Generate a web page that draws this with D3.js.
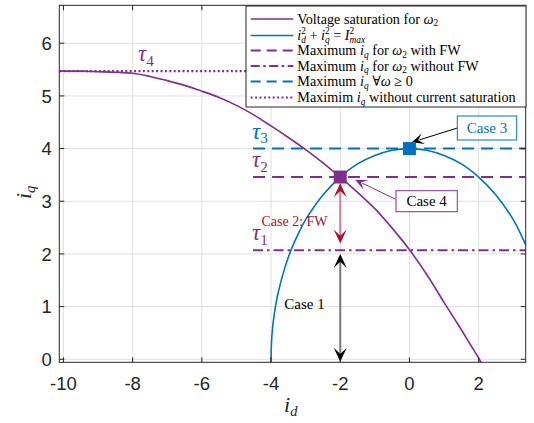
<!DOCTYPE html>
<html>
<head>
<meta charset="utf-8">
<script src="https://cdn.jsdelivr.net/npm/d3@7"></script>
<style>
  body { margin: 0; background: #fff; }
  svg { display: block; }
  text { white-space: pre; }
</style>
</head>
<body>
<div id="chart"></div>
<script>
// values
const xTicks = [-10, -8, -6, -4, -2, 0, 2];
const yTicks = [0, 1, 2, 3, 4, 5, 6];

// voltage saturation curve for w2
const idVoltage = [-10.12, -9.5, -9, -8.5, -8, -7.5, -7, -6.5, -6, -5.5, -5, -4.5, -4, -3.5, -3, -2.5, -2, -1.5, -1, -0.5, 0, 0.5, 1, 1.5, 1.75, 2.02, 2.07];
const iqVoltage = [5.47, 5.47, 5.46, 5.45, 5.43, 5.37, 5.29, 5.20, 5.09, 4.97, 4.82, 4.64, 4.43, 4.21, 3.98, 3.73, 3.46, 3.17, 2.86, 2.49, 2.08, 1.61, 1.08, 0.56, 0.29, 0, -0.06];

// current limit circle, Imax = 4
const idCircle = [-4, -4, -3.98, -3.95, -3.9, -3.8, -3.6, -3.4, -3.2, -3, -2.5, -2, -1.5, -1, -0.5, 0, 0.5, 1, 1.5, 2, 2.5, 3, 3.36];
const iqCircle = [-0.06, 0, 0.40, 0.63, 0.89, 1.25, 1.74, 2.11, 2.40, 2.65, 3.12, 3.46, 3.71, 3.87, 3.97, 4.00, 3.97, 3.87, 3.71, 3.46, 3.12, 2.65, 2.17];

// horizontal limits tau1..tau4
const tauNames = ["1", "2", "3", "4"];
const tauValues = [2.07, 3.46, 4.0, 5.47];
const tauStart = [-4.52, -4.52, -4.52, -10.12];

// operating points (case 4, case 3)
const pointId = [-2, 0];
const pointIq = [3.46, 4.0];

// double arrows at id = -2 : [from, to]
const arrowCase1 = [2.0, -0.045];
const arrowCase2 = [3.34, 2.2];

const purple = "#7E2F8E", blue = "#0072BD", red = "#A2142F", axisCol = "#262626";

const W = 534, H = 423;
const pL = 59.3, pR = 525.7, pT = 5.3, pB = 362.3;

const x = d3.scaleLinear().domain([-10.12, 3.36]).range([pL, pR]);
const y = d3.scaleLinear().domain([-0.057, 6.72]).range([pB, pT]);

const svg = d3.select("#chart").append("svg").attr("width", W).attr("height", H);

svg.append("defs").append("clipPath").attr("id", "plotclip")
  .append("rect").attr("x", pL).attr("y", pT).attr("width", pR - pL).attr("height", pB - pT);

// grid
const grid = svg.append("g").attr("stroke", "#e0e0e0").attr("stroke-width", 1);
xTicks.forEach(t => grid.append("line").attr("x1", x(t)).attr("x2", x(t)).attr("y1", pT).attr("y2", pB));
yTicks.forEach(t => grid.append("line").attr("x1", pL).attr("x2", pR).attr("y1", y(t)).attr("y2", y(t)));

const plot = svg.append("g").attr("clip-path", "url(#plotclip)");

const lineGen = d3.line().x(d => x(d[0])).y(d => y(d[1])).curve(d3.curveCatmullRom.alpha(0.5));

// tau lines
const tauStyle = [
  { color: purple, dash: "10,4,2.5,4", width: 2 },
  { color: purple, dash: "12,7", width: 2 },
  { color: blue, dash: "12,7", width: 2 },
  { color: purple, dash: "2,2.4", width: 2.2 }
];
tauValues.forEach((v, i) => {
  plot.append("line")
    .attr("x1", x(tauStart[i])).attr("x2", pR)
    .attr("y1", y(v)).attr("y2", y(v))
    .attr("stroke", tauStyle[i].color).attr("stroke-width", tauStyle[i].width)
    .attr("stroke-dasharray", tauStyle[i].dash);
});

// curves
plot.append("path")
  .datum(idCircle.map((d, i) => [d, iqCircle[i]]))
  .attr("d", lineGen)
  .attr("fill", "none").attr("stroke", blue).attr("stroke-width", 1.6);

plot.append("path")
  .datum(idVoltage.map((d, i) => [d, iqVoltage[i]]))
  .attr("d", lineGen)
  .attr("fill", "none").attr("stroke", purple).attr("stroke-width", 1.6);

// arrow head (vback2 style), tip at origin pointing up
function head(g, tx, ty, angle, color, len, half) {
  const notch = len * 0.55;
  g.append("path")
    .attr("d", `M0,0 L${-half},${len} L0,${notch} L${half},${len} Z`)
    .attr("transform", `translate(${tx},${ty}) rotate(${angle})`)
    .attr("fill", color);
}

function doubleArrow(g, xv, from, to, shaftCol, headCol) {
  const y1 = y(from), y2 = y(to);
  g.append("line").attr("x1", x(xv)).attr("x2", x(xv)).attr("y1", y1 + 6).attr("y2", y2 - 6)
    .attr("stroke", shaftCol).attr("stroke-width", 2);
  head(g, x(xv), y1, 0, headCol, 14, 6.5);
  head(g, x(xv), y2, 180, headCol, 14, 6.5);
}

const ann = svg.append("g");
doubleArrow(ann, -2, arrowCase1[0], arrowCase1[1], "#7a7a7a", "#000");
doubleArrow(ann, -2, arrowCase2[0], arrowCase2[1], "#d27f90", red);

// squares
const sq = 13;
svg.append("rect").attr("x", x(pointId[0]) - sq / 2).attr("y", y(pointIq[0]) - sq / 2)
  .attr("width", sq).attr("height", sq).attr("fill", purple);
svg.append("rect").attr("x", x(pointId[1]) - sq / 2).attr("y", y(pointIq[1]) - sq / 2)
  .attr("width", sq).attr("height", sq).attr("fill", blue);

// single arrows to boxes
function arrow(g, x0, y0, x1, y1, color) {
  const ang = Math.atan2(y1 - y0, x1 - x0);
  g.append("line").attr("x1", x0).attr("y1", y0)
    .attr("x2", x1 - 8 * Math.cos(ang)).attr("y2", y1 - 8 * Math.sin(ang))
    .attr("stroke", color).attr("stroke-width", 1);
  head(g, x1, y1, ang * 180 / Math.PI + 90, color, 12, 5.5);
}
arrow(ann, x(1.38), y(4.39), x(0.07), y(4.12), "#000");
arrow(ann, x(-0.41), y(3.04), x(-1.57), y(3.41), purple);

const serif = "'Liberation Serif', 'DejaVu Serif', serif";

function box(g, x0, y0, w, h, text, stroke, col) {
  g.append("rect").attr("x", x0).attr("y", y0).attr("width", w).attr("height", h)
    .attr("fill", "#fff").attr("stroke", stroke).attr("stroke-width", 1);
  g.append("text").attr("x", x0 + w / 2).attr("y", y0 + h / 2 + 5)
    .attr("text-anchor", "middle").attr("font-family", serif).attr("font-size", 15)
    .attr("fill", col).text(text);
}
box(ann, 457.3, 116, 59.4, 24, "Case 3", blue, blue);
box(ann, 396, 190.7, 61.3, 21, "Case 4", purple, "#000");

ann.append("text").attr("x", 304.5).attr("y", 309).attr("text-anchor", "middle")
  .attr("font-family", serif).attr("font-size", 15).attr("fill", "#000").text("Case 1");
ann.append("text").attr("x", 294.5).attr("y", 225.5).attr("text-anchor", "middle")
  .attr("font-family", serif).attr("font-size", 14).attr("fill", red).text("Case 2: FW");

// math-like text built from pieces laid out one after another
function mathText(g, x0, yb, parts, fs, color) {
  let cx = x0;
  parts.forEach(p => {
    if (p.s !== undefined) {
      const t = g.append("text").attr("x", cx).attr("y", yb)
        .attr("font-family", serif).attr("font-size", fs).attr("fill", color).text(p.s);
      if (p.i) t.attr("font-style", "italic");
      cx += t.node().getComputedTextLength();
    } else {
      let w = 0;
      const sfs = fs * 0.66;
      if (p.sub) {
        const t = g.append("text").attr("x", cx).attr("y", yb + fs * 0.2)
          .attr("font-family", serif).attr("font-size", sfs).attr("fill", color).text(p.sub);
        if (p.subI !== false) t.attr("font-style", "italic");
        w = Math.max(w, t.node().getComputedTextLength());
      }
      if (p.sup) {
        const t = g.append("text").attr("x", cx).attr("y", yb - fs * 0.45)
          .attr("font-family", serif).attr("font-size", sfs).attr("fill", color).text(p.sup);
        w = Math.max(w, t.node().getComputedTextLength());
      }
      cx += w;
    }
  });
  return cx;
}

// tau labels
const tauLabelX = [252, 252, 252, 138];
const tauColors = [purple, purple, blue, purple];
tauValues.forEach((v, i) => {
  mathText(ann, tauLabelX[i], y(v) - 10, [{ s: "τ", i: true }, { sub: tauNames[i], subI: false }], 23, tauColors[i]);
});

// frame and ticks
const frame = svg.append("g").attr("stroke", axisCol).attr("stroke-width", 1).attr("fill", "none");
frame.append("rect").attr("x", pL).attr("y", pT).attr("width", pR - pL).attr("height", pB - pT);
xTicks.forEach(t => {
  frame.append("line").attr("x1", x(t)).attr("x2", x(t)).attr("y1", pB).attr("y2", pB - 5);
  frame.append("line").attr("x1", x(t)).attr("x2", x(t)).attr("y1", pT).attr("y2", pT + 5);
});
yTicks.forEach(t => {
  frame.append("line").attr("x1", pL).attr("x2", pL + 5).attr("y1", y(t)).attr("y2", y(t));
  frame.append("line").attr("x1", pR).attr("x2", pR - 5).attr("y1", y(t)).attr("y2", y(t));
});

const sans = "'Liberation Sans', Arial, sans-serif";
svg.append("g").selectAll("text").data(xTicks).join("text")
  .attr("x", d => x(d)).attr("y", 390)
  .attr("text-anchor", "middle").attr("font-family", sans).attr("font-size", 18.5)
  .attr("fill", axisCol).text(d => d);
svg.append("g").selectAll("text").data(yTicks).join("text")
  .attr("x", 51.7).attr("y", d => y(d) + 6.8)
  .attr("text-anchor", "end").attr("font-family", sans).attr("font-size", 18.5)
  .attr("fill", axisCol).text(d => d);

// axis labels
mathText(svg, 284, 412, [{ s: "i", i: true }, { sub: "d" }], 22, axisCol);
const ylg = svg.append("g").attr("transform", "translate(31,199) rotate(-90)");
mathText(ylg, 0, 0, [{ s: "i", i: true }, { sub: "q" }], 22, axisCol);

// legend
const lg = svg.append("g");
lg.append("rect").attr("x", 246).attr("y", 6).attr("width", 280).attr("height", 101)
  .attr("fill", "#fff").attr("stroke", axisCol).attr("stroke-width", 1);

const legendRows = [
  { y: 19, color: purple, dash: null, w: 1.6 },
  { y: 35.5, color: blue, dash: null, w: 1.6 },
  { y: 50.5, color: purple, dash: "10,6", w: 2 },
  { y: 66, color: purple, dash: "9,3.5,2.5,3.5", w: 2 },
  { y: 81.5, color: blue, dash: "10,6", w: 2 },
  { y: 97.5, color: purple, dash: "2,2.4", w: 2.2 }
];
const legendParts = [
  [{ s: "Voltage saturation for " }, { s: "ω", i: true }, { sub: "2", subI: false }],
  [{ s: "i", i: true }, { sub: "d", sup: "2" }, { s: " + " }, { s: "i", i: true }, { sub: "q", sup: "2" },
   { s: " = " }, { s: "I", i: true }, { sub: "max", sup: "2" }],
  [{ s: "Maximum " }, { s: "i", i: true }, { sub: "q" }, { s: " for " }, { s: "ω", i: true }, { sub: "2", subI: false }, { s: " with FW" }],
  [{ s: "Maximum " }, { s: "i", i: true }, { sub: "q" }, { s: " for " }, { s: "ω", i: true }, { sub: "2", subI: false }, { s: " without FW" }],
  [{ s: "Maximum " }, { s: "i", i: true }, { sub: "q" }, { s: " ∀" }, { s: "ω", i: true }, { s: " ≥ 0" }],
  [{ s: "Maximim " }, { s: "i", i: true }, { sub: "q" }, { s: " without current saturation" }]
];
legendRows.forEach((r, i) => {
  const l = lg.append("line").attr("x1", 250.7).attr("x2", 293.3).attr("y1", r.y).attr("y2", r.y)
    .attr("stroke", r.color).attr("stroke-width", r.w);
  if (r.dash) l.attr("stroke-dasharray", r.dash);
  mathText(lg, 297.3, r.y + 4.5, legendParts[i], 14.2, "#000");
});
</script>
</body>
</html>
